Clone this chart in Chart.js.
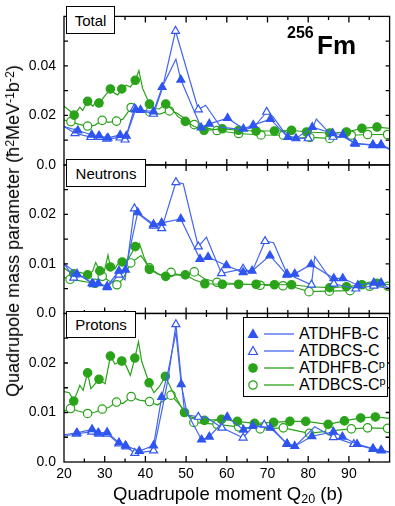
<!DOCTYPE html>
<html>
<head>
<meta charset="utf-8">
<script src="https://cdn.jsdelivr.net/npm/chart.js@4"></script>
<style>
  html, body { margin: 0; padding: 0; background: #fff; }
  body { width: 395px; height: 506px; position: relative; overflow: hidden;
         font-family: "Liberation Sans", Arial, Helvetica, sans-serif; color: #000; }
  canvas { position: absolute; left: 0; top: 0; }
  .abs { position: absolute; white-space: nowrap; line-height: 1; }
  .tag { position: absolute; border: 1.3px solid #000; background: #fff; font-size: 15px;
         display: flex; align-items: center; justify-content: center; box-sizing: border-box; }
  .legend { position: absolute; left: 243px; top: 317px; width: 145px; height: 80px;
            border: 1.3px solid #000; background: #fff; box-sizing: border-box; }
  .row { position: absolute; left: 0; height: 18px; display: flex; align-items: center; font-size: 16px; }
  .row svg { margin-left: 2px; margin-right: 3px; }
  sup { font-size: 0.68em; vertical-align: 0.45em; line-height: 0; }
  sub { font-size: 0.68em; vertical-align: -0.25em; line-height: 0; }
</style>
</head>
<body>
<canvas id="chart" width="395" height="506"></canvas>

<div class="tag" style="left:66px;top:6px;width:49px;height:28px;">Total</div>
<div class="tag" style="left:66px;top:159px;width:80px;height:28px;">Neutrons</div>
<div class="tag" style="left:66px;top:311px;width:70px;height:27px;">Protons</div>

<div class="abs" style="left:287px;top:25px;font-size:16px;font-weight:bold;">256</div>
<div class="abs" style="left:317px;top:32px;font-size:26px;font-weight:bold;">Fm</div>

<div class="legend">
  <div class="row" style="top:7px;">
    <svg width="50" height="18"><polygon points="7,4.5 11.5,12.5 2.5,12.5" fill="#2f55f0" stroke="#2f55f0" stroke-width="1.2"/><line x1="18" y1="9" x2="48" y2="9" stroke="#4466f0" stroke-width="1.3"/></svg><span>ATDHFB-C</span></div>
  <div class="row" style="top:24px;">
    <svg width="50" height="18"><polygon points="7,4.5 11.5,12.5 2.5,12.5" fill="#fff" stroke="#2f55f0" stroke-width="1.2"/><line x1="18" y1="9" x2="48" y2="9" stroke="#4466f0" stroke-width="1.3"/></svg><span>ATDBCS-C</span></div>
  <div class="row" style="top:41px;">
    <svg width="50" height="18"><circle cx="7" cy="9" r="4.2" fill="#2aa31a" stroke="#2aa31a" stroke-width="1.2"/><line x1="18" y1="9" x2="48" y2="9" stroke="#2aa31a" stroke-width="1.3"/></svg><span>ATDHFB-C<sup>p</sup></span></div>
  <div class="row" style="top:58px;">
    <svg width="50" height="18"><circle cx="7" cy="9" r="4.2" fill="#fff" stroke="#2aa31a" stroke-width="1.2"/><line x1="18" y1="9" x2="48" y2="9" stroke="#2aa31a" stroke-width="1.3"/></svg><span>ATDBCS-C<sup>p</sup></span></div>
</div>

<div class="abs" style="left:13px;top:231px;font-size:18px;transform:translate(-50%,-50%) rotate(-90deg);">Quadrupole mass parameter (ħ<sup>2</sup>MeV<sup>-1</sup>b<sup>-2</sup>)</div>
<div class="abs" style="left:228px;top:494px;font-size:18.5px;transform:translate(-50%,-50%);">Quadrupole moment Q<sub>20</sub> (b)</div>

<script>
// [Q20, value, 1 = draw marker]
const totalHFB = [[20,0.0155,0],[23.4,0.0139,1],[26.8,0.0122,1],[28.6,0.0118,1],[30.8,0.0109,1],[33.8,0.0121,1],[35.3,0.0117,1],[37.6,0.0224,1],[38.8,0.0222,1],[42.0,0.0215,1],[44.1,0.0314,1],[47.5,0.0427,0],[48.7,0.0344,1],[53.7,0.0151,1],[55.7,0.0166,1],[60.2,0.0189,1],[64.1,0.0146,1],[66.5,0.0161,1],[70.7,0.0185,1],[75.0,0.0112,1],[77.0,0.0107,1],[81.0,0.0153,1],[86.0,0.0128,1],[88.5,0.0122,1],[91.6,0.0085,1],[95.9,0.0082,1],[97.9,0.0082,1],[100,0.0065,0]];
const totalBCS = [[20,0.0155,0],[22.7,0.0128,1],[26.6,0.0112,1],[28.8,0.0112,1],[30.5,0.0105,1],[33.8,0.0110,1],[35.0,0.0102,1],[37.3,0.0228,1],[42.0,0.0206,1],[44.2,0.0310,0],[47.4,0.0541,1],[53.0,0.0224,1],[54.8,0.0241,0],[58.5,0.0153,0],[60.0,0.0150,0],[64.0,0.0143,0],[66.5,0.0150,0],[69.8,0.0214,1],[71.3,0.0196,0],[74.8,0.0116,0],[77.2,0.0108,0],[80.0,0.0107,1],[82.0,0.0185,0],[86.1,0.0113,1],[88.5,0.0115,0],[91.4,0.0088,1],[95.9,0.0079,1],[97.9,0.0079,1],[100,0.0063,0]];
const totalHFBp = [[20,0.0237,0],[21.2,0.0222,0],[22.5,0.0201,1],[23.9,0.0233,0],[24.6,0.0220,0],[25.8,0.0257,1],[27.1,0.0237,0],[28.0,0.0262,0],[28.6,0.0250,1],[29.6,0.0270,0],[31.4,0.0307,1],[32.4,0.0290,0],[33.2,0.0283,0],[34.2,0.0307,1],[35.3,0.0322,0],[36.3,0.0315,0],[37.5,0.0342,1],[38.4,0.0381,0],[39.3,0.0310,0],[41.0,0.0246,1],[42.4,0.0228,0],[43.4,0.0226,0],[45.0,0.0246,1],[46.5,0.0225,0],[48.0,0.0195,0],[49.8,0.0176,1],[52.0,0.0155,0],[54.4,0.0140,1],[58.9,0.0146,1],[62.9,0.0140,1],[67.2,0.0137,1],[71.7,0.0137,1],[75.9,0.0140,1],[79.6,0.0133,1],[85.3,0.0129,1],[89.4,0.0133,1],[93.2,0.0148,1],[96.9,0.0153,1],[100,0.0148,0]];
const totalBCSp = [[20,0.0181,0],[21.7,0.0175,1],[23.5,0.0165,0],[25.8,0.0157,1],[27.5,0.0160,0],[29.4,0.0180,1],[31.0,0.0172,0],[32.9,0.0177,1],[34.5,0.0185,0],[36.5,0.0232,1],[38.5,0.0225,0],[41.1,0.0214,1],[43.5,0.0205,0],[45.9,0.0218,1],[47.5,0.0212,0],[52.0,0.0163,1],[57.6,0.0139,1],[62.9,0.0127,1],[68.4,0.0121,1],[73.9,0.0120,1],[77.5,0.0108,0],[80.4,0.0111,1],[85.3,0.0107,1],[90.6,0.0120,1],[94.6,0.0123,1],[99.5,0.0123,1]];

const neutHFB = [[20,0.0101,0],[23.2,0.0080,1],[26.9,0.0061,1],[28.4,0.0061,1],[30.6,0.0055,1],[33.5,0.0086,1],[35.1,0.0088,1],[38.1,0.0204,1],[42.0,0.0180,1],[44.0,0.0183,1],[48.7,0.0191,1],[53.4,0.0110,1],[55.4,0.0114,1],[59.9,0.0097,1],[64.0,0.0083,1],[66.2,0.0086,1],[70.6,0.0117,1],[74.8,0.0078,1],[76.7,0.0080,1],[80.7,0.0099,1],[86.3,0.0071,1],[88.5,0.0071,1],[92.2,0.0057,1],[96.1,0.0062,1],[97.9,0.0062,1],[100,0.0050,0]];
const neutBCS = [[20,0.0101,0],[22.4,0.0072,1],[24.5,0.0075,0],[27.2,0.0059,1],[29.0,0.0058,0],[30.6,0.0053,1],[33.5,0.0078,1],[35.0,0.0068,0],[37.3,0.0212,1],[38.4,0.0200,0],[42.0,0.0177,1],[44.0,0.0172,1],[47.5,0.0265,1],[49.3,0.0262,0],[53.0,0.0135,1],[55.0,0.0154,0],[58.7,0.0081,1],[64.0,0.0090,1],[66.2,0.0084,0],[69.4,0.0146,1],[71.5,0.0143,0],[74.8,0.0080,1],[80.8,0.0058,1],[81.6,0.0115,0],[86.3,0.0060,1],[91.7,0.0050,1],[96.1,0.0056,1],[100,0.0050,0]];
const neutHFBp = [[20,0.0092,0],[21.2,0.0085,0],[22.4,0.0080,1],[24.0,0.0083,0],[25.8,0.0078,1],[27.0,0.0085,0],[27.8,0.0103,0],[28.8,0.0086,1],[29.8,0.0082,0],[30.8,0.0118,0],[31.4,0.0094,1],[32.5,0.0090,0],[33.2,0.0100,0],[34.3,0.0104,1],[35.8,0.0110,0],[37.5,0.0135,1],[38.5,0.0142,0],[39.6,0.0115,0],[41.0,0.0089,1],[43.0,0.0080,0],[45.0,0.0075,1],[47.5,0.0078,0],[49.8,0.0078,1],[52.0,0.0068,0],[54.6,0.0060,1],[58.9,0.0059,1],[62.9,0.0059,1],[67.2,0.0059,1],[71.7,0.0058,1],[75.9,0.0058,1],[80.5,0.0054,0],[85.3,0.0052,1],[89.4,0.0054,1],[93.2,0.0058,1],[96.9,0.0061,1],[100,0.0058,0]];
const neutBCSp = [[20,0.0073,0],[21.5,0.0069,1],[24.0,0.0066,0],[26.0,0.0063,0],[27.6,0.0061,1],[29.4,0.0075,1],[31.0,0.0066,0],[33.0,0.0058,1],[34.5,0.0070,0],[36.4,0.0102,1],[38.9,0.0117,0],[41.0,0.0092,1],[43.5,0.0078,0],[46.3,0.0083,1],[49.0,0.0076,0],[52.0,0.0084,1],[54.5,0.0070,0],[57.6,0.0063,1],[62.5,0.0060,0],[68.2,0.0057,1],[73.8,0.0056,1],[77.0,0.0052,0],[80.2,0.0044,1],[85.2,0.0045,1],[90.3,0.0046,1],[95.1,0.0055,1],[99.6,0.0055,1]];

const protHFB = [[20,0.0055,0],[23.2,0.0059,1],[26.9,0.0066,1],[28.4,0.0059,1],[30.6,0.0060,1],[33.5,0.0039,1],[35.1,0.0033,1],[38.5,0.0022,1],[42.0,0.0033,1],[44.0,0.0131,1],[45.5,0.0180,0],[47.5,0.0262,0],[48.8,0.0157,1],[50.2,0.0100,0],[53.8,0.0045,1],[55.7,0.0051,1],[60.1,0.0091,1],[64.1,0.0065,1],[66.4,0.0073,1],[70.7,0.0069,1],[74.8,0.0037,1],[76.7,0.0032,1],[80.9,0.0052,1],[86.2,0.0061,1],[88.4,0.0051,1],[92.0,0.0036,1],[95.9,0.0027,1],[97.9,0.0024,1],[100,0.0020,0]];
const protBCS = [[20,0.0052,0],[23.0,0.0057,1],[26.8,0.0061,1],[28.6,0.0057,1],[30.6,0.0057,1],[33.5,0.0037,1],[35.3,0.0031,1],[37.4,0.0018,1],[38.6,0.0019,0],[42.0,0.0023,1],[44.2,0.0110,0],[45.5,0.0165,0],[47.5,0.0278,1],[49.5,0.0110,0],[50.5,0.0095,0],[53.0,0.0091,1],[55.0,0.0090,0],[58.8,0.0069,1],[64.0,0.0049,1],[66.0,0.0068,0],[69.2,0.0075,1],[71.0,0.0070,0],[74.8,0.0036,1],[76.8,0.0032,0],[81.6,0.0071,0],[86.2,0.0050,1],[91.2,0.0036,1],[96.0,0.0026,1],[98.0,0.0023,1],[100,0.0020,0]];
const protHFBp = [[20,0.0142,0],[21.3,0.0140,0],[22.4,0.0123,1],[23.9,0.0155,0],[24.7,0.0145,0],[25.8,0.0180,1],[26.6,0.0148,0],[28.6,0.0167,1],[30.1,0.0158,0],[31.4,0.0214,1],[32.5,0.0198,0],[33.3,0.0201,0],[34.2,0.0204,1],[35.2,0.0195,0],[36.3,0.0175,0],[37.4,0.0210,1],[38.3,0.0243,0],[39.1,0.0203,0],[40.9,0.0160,1],[42.1,0.0140,0],[43.4,0.0152,0],[44.9,0.0173,1],[46.5,0.0145,0],[49.6,0.0100,1],[51.5,0.0090,0],[54.5,0.0084,1],[58.7,0.0086,1],[62.6,0.0082,1],[66.8,0.0078,1],[71.5,0.0080,1],[75.5,0.0082,1],[79.4,0.0082,1],[84.9,0.0076,1],[88.9,0.0083,1],[92.9,0.0089,1],[96.5,0.0091,1],[100,0.0088,0]];
const protBCSp = [[20,0.0103,0],[21.6,0.0108,1],[23.5,0.0103,0],[25.8,0.0098,1],[27.5,0.0100,0],[29.4,0.0107,1],[31.0,0.0110,0],[32.9,0.0121,1],[34.5,0.0118,0],[36.5,0.0132,1],[38.5,0.0125,0],[41.0,0.0122,1],[43.0,0.0115,0],[46.3,0.0135,1],[48.5,0.0115,0],[51.9,0.0080,1],[57.6,0.0076,1],[62.9,0.0071,1],[68.2,0.0067,1],[73.9,0.0069,1],[80.3,0.0058,1],[85.3,0.0063,1],[90.6,0.0067,1],[94.6,0.0069,1],[99.5,0.0068,1]];

const xTicks = [20, 30, 40, 50, 60, 70, 80, 90];
const totalTicks = [0, 0.02, 0.04];
const neutTicks = [0, 0.01, 0.02];
const protTicks = [0, 0.01, 0.02];

const BLUE = '#2f55f0', BLUE_LINE = '#4466f0', GREEN = '#2aa31a';
const FONT = '"Liberation Sans", Arial, Helvetica, sans-serif';

function series(arr, axis, color, lineColor, shape, filled) {
  const r = shape === 'triangle' ? 4.6 : 4.2;
  return {
    data: arr.map(p => ({ x: p[0], y: p[1], m: p[2] })),
    yAxisID: axis,
    borderColor: lineColor,
    borderWidth: 1.2,
    tension: 0,
    pointStyle: shape,
    pointRadius: c => (c.raw && c.raw.m ? r : 0),
    pointBackgroundColor: filled ? color : '#fff',
    pointBorderColor: color,
    pointBorderWidth: 1.2
  };
}

function yAxis(max, ticks, weight) {
  return {
    type: 'linear', position: 'left', stack: 'panels', stackWeight: 1, weight,
    min: 0, max,
    grid: { display: false, drawTicks: false },
    border: { display: false },
    afterBuildTicks: s => { s.ticks = ticks.map(v => ({ value: v })); },
    afterFit: s => { s.width = 64; },
    ticks: { padding: 8, color: '#000', font: { family: FONT, size: 14 },
             callback: v => (v === 0 ? '0.0' : String(v)) }
  };
}

const panels = [
  { id: 'yT', minor: 0.01 },
  { id: 'yN', minor: 0.005 },
  { id: 'yP', minor: 0.005 }
];

const frameTicks = {
  id: 'frameTicks',
  afterDatasetsDraw(chart) {
    const ctx = chart.ctx, xs = chart.scales.x, a = chart.chartArea;
    ctx.save();
    ctx.strokeStyle = '#000';
    ctx.lineWidth = 1.3;
    panels.forEach(p => {
      const ys = chart.scales[p.id];
      const top = ys.top, bot = ys.bottom;
      ctx.strokeRect(a.left, top, a.right - a.left, bot - top);
      ctx.beginPath();
      for (let v = 25; v < 100; v += 5) {
        const px = xs.getPixelForValue(v);
        const len = v % 10 === 0 ? 6 : 3.5;
        ctx.moveTo(px, bot); ctx.lineTo(px, bot - len);
        ctx.moveTo(px, top); ctx.lineTo(px, top + len);
      }
      for (let v = p.minor; v < ys.max - 1e-9; v += p.minor) {
        const py = ys.getPixelForValue(v);
        ctx.moveTo(a.left, py); ctx.lineTo(a.left + 4, py);
        ctx.moveTo(a.right, py); ctx.lineTo(a.right - 4, py);
      }
      ctx.stroke();
    });
    ctx.restore();
  }
};

new Chart(document.getElementById('chart'), {
  type: 'line',
  data: {
    datasets: [
      series(totalHFB, 'yT', BLUE, BLUE_LINE, 'triangle', true),
      series(totalBCS, 'yT', BLUE, BLUE_LINE, 'triangle', false),
      series(totalHFBp, 'yT', GREEN, GREEN, 'circle', true),
      series(totalBCSp, 'yT', GREEN, GREEN, 'circle', false),
      series(neutHFB, 'yN', BLUE, BLUE_LINE, 'triangle', true),
      series(neutBCS, 'yN', BLUE, BLUE_LINE, 'triangle', false),
      series(neutHFBp, 'yN', GREEN, GREEN, 'circle', true),
      series(neutBCSp, 'yN', GREEN, GREEN, 'circle', false),
      series(protHFB, 'yP', BLUE, BLUE_LINE, 'triangle', true),
      series(protBCS, 'yP', BLUE, BLUE_LINE, 'triangle', false),
      series(protHFBp, 'yP', GREEN, GREEN, 'circle', true),
      series(protBCSp, 'yP', GREEN, GREEN, 'circle', false)
    ]
  },
  options: {
    responsive: false,
    animation: false,
    devicePixelRatio: 1,
    events: [],
    layout: { padding: { top: 4, right: 3, left: 0, bottom: 0 } },
    plugins: { legend: { display: false }, tooltip: { enabled: false } },
    scales: {
      x: {
        type: 'linear', position: 'bottom', min: 20, max: 100,
        grid: { display: false, drawTicks: false },
        border: { display: false },
        afterBuildTicks: s => { s.ticks = xTicks.map(v => ({ value: v })); },
        afterFit: s => { s.height = 44; },
        ticks: { padding: 4, color: '#000', font: { family: FONT, size: 14 }, maxRotation: 0 }
      },
      yT: yAxis(0.06, totalTicks, 3),
      yN: yAxis(0.03, neutTicks, 2),
      yP: yAxis(0.03, protTicks, 1)
    }
  },
  plugins: [frameTicks]
});
</script>
</body>
</html>
